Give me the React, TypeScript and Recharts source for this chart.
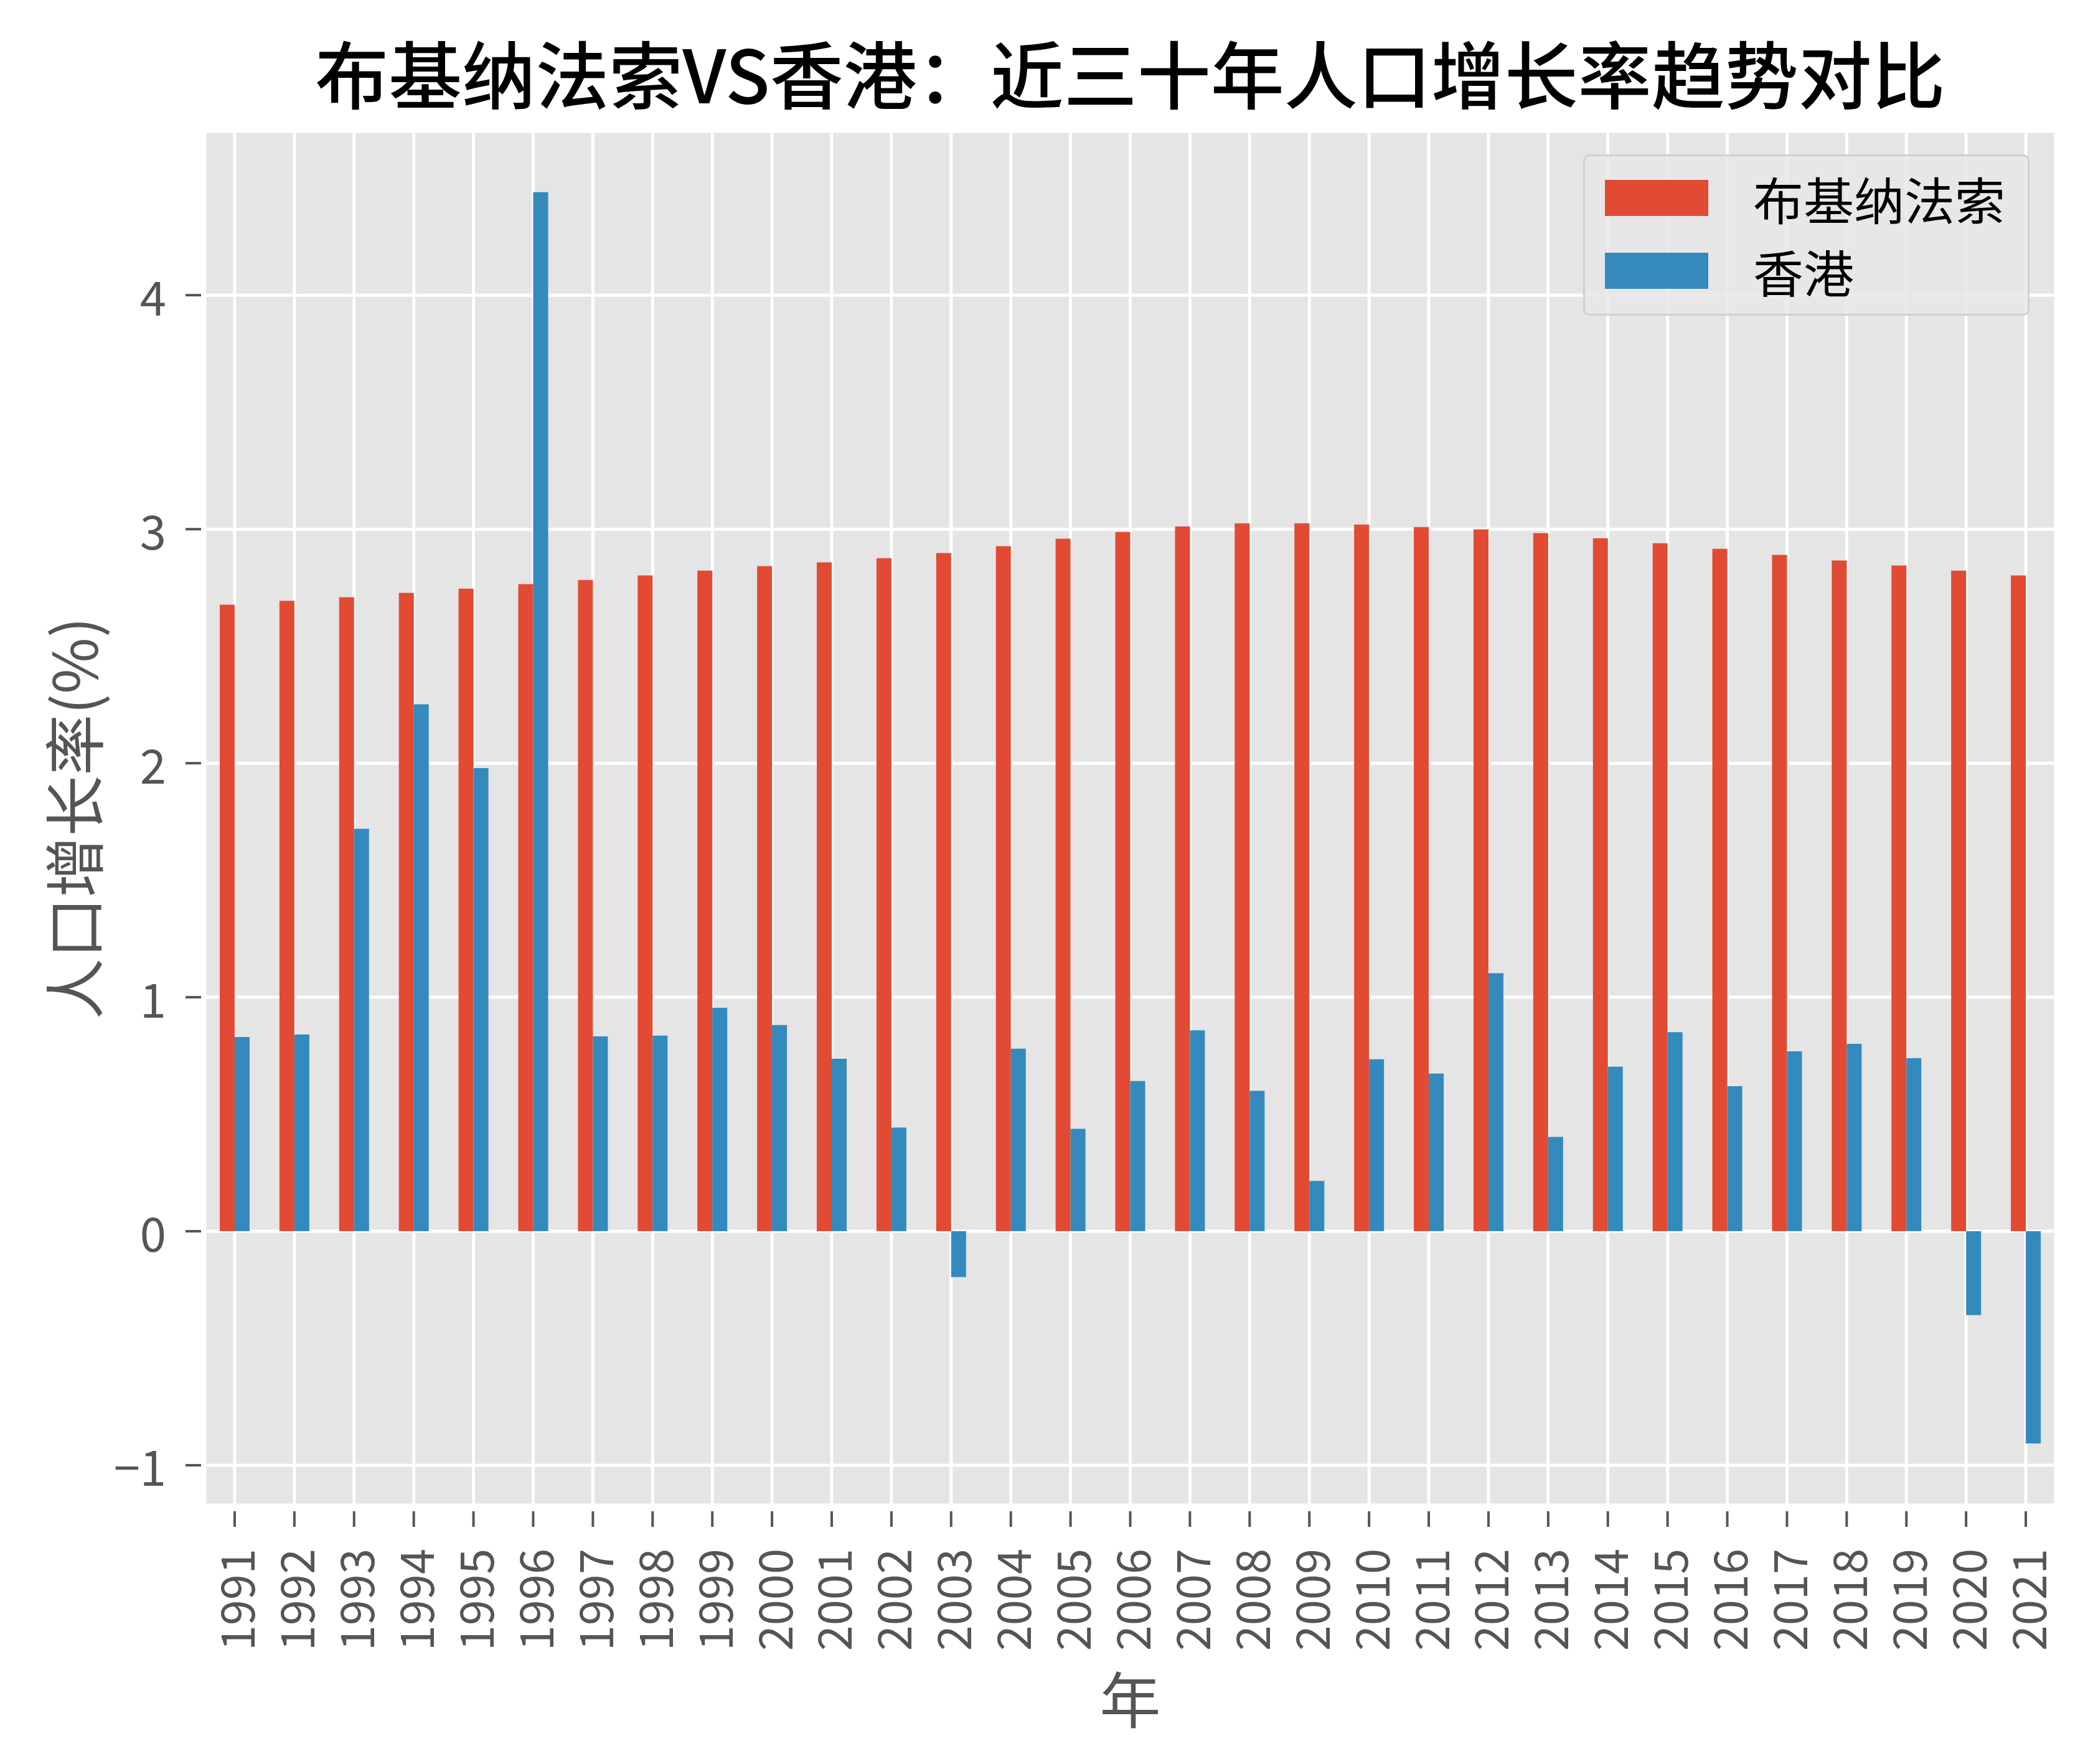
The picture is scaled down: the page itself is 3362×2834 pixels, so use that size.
import React from 'react';
import { BarChart, Bar, XAxis, YAxis, CartesianGrid, Legend } from 'recharts';

// Annual population growth (%), 1991–2021
const years = [
  '1991', '1992', '1993', '1994', '1995', '1996', '1997', '1998', '1999', '2000',
  '2001', '2002', '2003', '2004', '2005', '2006', '2007', '2008', '2009', '2010',
  '2011', '2012', '2013', '2014', '2015', '2016', '2017', '2018', '2019', '2020', '2021',
];
const burkinaFaso = [
  2.677, 2.694, 2.709, 2.728, 2.746, 2.765, 2.783, 2.802, 2.823, 2.842,
  2.858, 2.876, 2.898, 2.927, 2.959, 2.988, 3.012, 3.025, 3.025, 3.02,
  3.009, 2.999, 2.983, 2.961, 2.94, 2.916, 2.89, 2.866, 2.845, 2.823, 2.802,
];
const hongKong = [
  0.83, 0.841, 1.72, 2.252, 1.979, 4.44, 0.833, 0.836, 0.955, 0.881,
  0.737, 0.443, -0.196, 0.78, 0.438, 0.642, 0.859, 0.6, 0.215, 0.735,
  0.674, 1.103, 0.403, 0.703, 0.851, 0.62, 0.769, 0.801, 0.74, -0.358, -0.907,
];
const yTicks = [-1, 0, 1, 2, 3, 4];

const seriesNames = ['布基纳法索', '香港'];
const titleText = '布基纳法索VS香港：近三十年人口增长率趋势对比';
const xLabel = '年';
const yLabel = '人口增长率(%)';

const data = years.map((year, i) => ({
  year,
  bf: burkinaFaso[i],
  hk: hongKong[i],
}));

// layout
const W = 3362;
const H = 2834;
const PLOT_LEFT = 329;
const PLOT_RIGHT = 3302;
const PLOT_TOP = 211;
const PLOT_BOTTOM = 2418;
const Y_AXIS_W = 200;
const X_AXIS_H = 300;

const FONT = '"Noto Sans CJK SC", "Noto Sans", sans-serif';
const TICK_COLOR = '#555555';
const RED = '#E24A33';
const BLUE = '#348ABD';

const fmtY = (v: number) => (v < 0 ? '\u2212' + Math.abs(v) : String(v));

const YTick = (props: any) => {
  const { y, payload } = props;
  return (
    <g>
      <line x1={PLOT_LEFT - 31} x2={PLOT_LEFT - 6} y1={y} y2={y} stroke={TICK_COLOR} strokeWidth={4} />
      <text
        x={PLOT_LEFT - 62}
        y={y}
        textAnchor="end"
        dominantBaseline="central"
        fill={TICK_COLOR}
        fontSize={76}
        fontFamily={FONT}
      >
        {fmtY(payload.value)}
      </text>
    </g>
  );
};

const XTick = (props: any) => {
  const { x, payload } = props;
  const ty = PLOT_BOTTOM + 70;
  return (
    <g>
      <line x1={x} x2={x} y1={PLOT_BOTTOM + 10} y2={PLOT_BOTTOM + 35} stroke={TICK_COLOR} strokeWidth={4} />
      <text
        x={x}
        y={ty}
        transform={`rotate(-90, ${x}, ${ty})`}
        textAnchor="end"
        dominantBaseline="central"
        fill={TICK_COLOR}
        fontSize={74}
        fontFamily={FONT}
      >
        {payload.value}
      </text>
    </g>
  );
};

const LegendBox = (props: any) => {
  const items = props.payload || [];
  return (
    <div
      style={{
        width: 717,
        height: 259,
        boxSizing: 'border-box',
        background: 'rgba(232,232,232,0.85)',
        border: '3px solid #D0D0D0',
        borderRadius: 10,
        position: 'relative',
      }}
    >
      {items.map((it: any, i: number) => (
        <div
          key={it.value}
          style={{
            position: 'absolute',
            left: 32,
            top: 38 + i * 117,
            height: 58,
            display: 'flex',
            alignItems: 'center',
          }}
        >
          <div style={{ width: 166, height: 58, background: it.color }} />
          <span
            style={{
              marginLeft: 72,
              fontSize: 81,
              fontFamily: FONT,
              color: '#000',
              lineHeight: '58px',
              whiteSpace: 'nowrap',
            }}
          >
            {it.value}
          </span>
        </div>
      ))}
    </div>
  );
};

export default function App() {
  const plotCx = (PLOT_LEFT + PLOT_RIGHT) / 2;
  const plotCy = (PLOT_TOP + PLOT_BOTTOM) / 2;
  return (
    <div style={{ position: 'absolute', left: 0, top: 0, width: W, height: H, background: '#fff' }}>
      <div
        style={{
          position: 'absolute',
          left: plotCx - 1600,
          width: 3200,
          top: 115 - 80,
          height: 160,
          lineHeight: '160px',
          textAlign: 'center',
          fontSize: 118,
          fontWeight: 500,
          fontFamily: FONT,
          color: '#000',
          whiteSpace: 'nowrap',
        }}
      >
        {titleText}
      </div>
      <BarChart
        width={W}
        height={H}
        data={data}
        margin={{
          top: PLOT_TOP,
          right: W - PLOT_RIGHT,
          bottom: H - PLOT_BOTTOM - X_AXIS_H,
          left: PLOT_LEFT - Y_AXIS_W,
        }}
        barCategoryGap="25%"
        barGap={0}
      >
        <CartesianGrid fill="#E5E5E5" stroke="#FFFFFF" strokeWidth={5} />
        <XAxis
          dataKey="year"
          interval={0}
          height={X_AXIS_H}
          tickLine={false}
          axisLine={false}
          tick={<XTick />}
          label={(p: any) => (
            <text
              x={plotCx}
              y={2725}
              textAnchor="middle"
              dominantBaseline="central"
              fill={TICK_COLOR}
              fontSize={98}
              fontFamily={FONT}
            >
              {xLabel}
            </text>
          )}
        />
        <YAxis
          type="number"
          domain={[-1.17, 4.7]}
          ticks={yTicks}
          allowDataOverflow
          width={Y_AXIS_W}
          tickLine={false}
          axisLine={false}
          tick={<YTick />}
          label={(p: any) => (
            <text
              x={114}
              y={plotCy}
              transform={`rotate(-90, 114, ${plotCy})`}
              textAnchor="middle"
              dominantBaseline="central"
              fill={TICK_COLOR}
              fontSize={98}
              fontFamily={FONT}
            >
              {yLabel}
            </text>
          )}
        />
        <Legend
          layout="horizontal"
          verticalAlign="middle"
          align="center"
          content={<LegendBox />}
          wrapperStyle={{ left: 2543, top: 248, width: 717, height: 259 }}
        />
        <Bar dataKey="bf" name={seriesNames[0]} fill={RED} isAnimationActive={false} />
        <Bar dataKey="hk" name={seriesNames[1]} fill={BLUE} isAnimationActive={false} />
      </BarChart>
    </div>
  );
}
